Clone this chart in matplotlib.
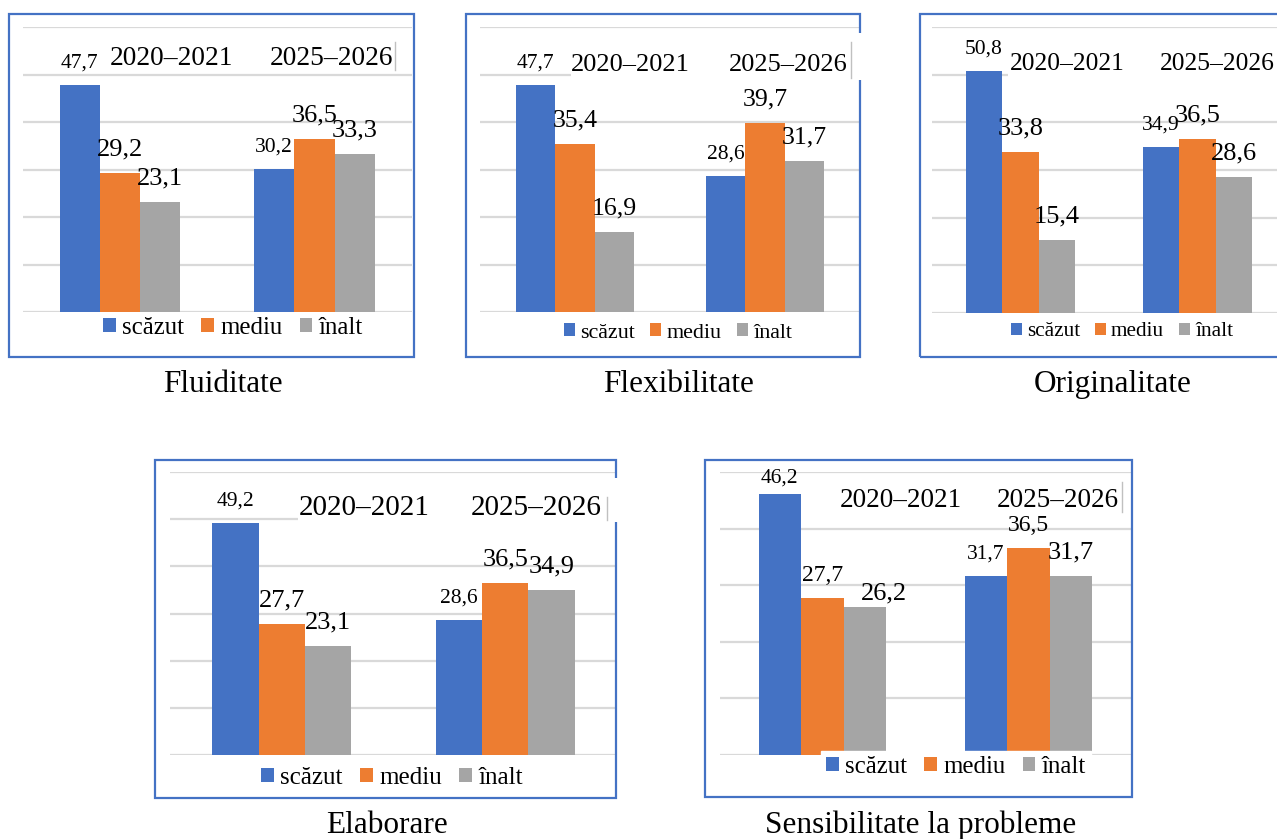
import numpy as np
import matplotlib
matplotlib.use('Agg')
import matplotlib.pyplot as plt
from matplotlib.patches import Rectangle
from matplotlib.lines import Line2D

# Reference image size in pixels
W, H = 1277, 839

periods = ['2020–2021', '2025–2026']
levels = ['scăzut', 'mediu', 'înalt']
captions = ['Fluiditate', 'Flexibilitate', 'Originalitate', 'Elaborare',
            'Sensibilitate la probleme']

# rows = periods, columns = levels (scăzut, mediu, înalt), in %
fluiditate = [[47.7, 29.2, 23.1], [30.2, 36.5, 33.3]]
flexibilitate = [[47.7, 35.4, 16.9], [28.6, 39.7, 31.7]]
originalitate = [[50.8, 33.8, 15.4], [34.9, 36.5, 28.6]]
elaborare = [[49.2, 27.7, 23.1], [28.6, 36.5, 34.9]]
sensibilitate = [[46.2, 27.7, 26.2], [31.7, 36.5, 31.7]]

all_data = [fluiditate, flexibilitate, originalitate, elaborare, sensibilitate]

series_colors = ['#4472C4', '#ED7D31', '#A5A5A5']
border_color = '#4472C4'
grid_color = '#D9D9D9'

# Layout of each pasted chart, in pixel coordinates of the reference
panels = [
    dict(box=(9, 14, 414, 357), axes=(22.75, 27, 411.75, 312), ymax=60,
         period_x=(171.5, 331.5), period_y=65, period_fs=19.7,
         cover=(108, 40, 397, 72), vline=(395, 42, 70),
         legend=(233, 328), legend_fs=17.9, legend_frame=False, caption=(223, 392),
         label_fs=[15.5, 19, 19, 15.5, 19, 19]),
    dict(box=(466, 14, 860, 357), axes=(480, 27, 860, 312), ymax=60,
         period_x=(630.5, 788), period_y=71, period_fs=19,
         cover=(571, 33, 863, 80), vline=(851, 42, 78),
         legend=(678, 333), legend_fs=15.8, legend_frame=False, caption=(679, 392),
         label_fs=[15.5, 18.5, 18.5, 15.5, 18.5, 18.5]),
    dict(box=(920, 14, 1290, 357), axes=(932, 27, 1286, 313), ymax=60,
         period_x=(1067.5, 1217), period_y=70, period_fs=18.4,
         cover=(1008, 40, 1277, 78), vline=None,
         legend=(1122, 332), legend_fs=15.3, legend_frame=False, caption=(1113, 392),
         label_fs=[15.5, 19, 19, 15.5, 19, 19]),
    dict(box=(155, 460, 616, 798), axes=(170, 472, 617, 755), ymax=60,
         period_x=(364, 536.5), period_y=515, period_fs=21,
         cover=(298, 478, 620, 522), vline=(607, 497, 520),
         legend=(392, 778), legend_fs=18.1, legend_frame=False, caption=(387, 833),
         label_fs=[15.5, 19, 19, 15.5, 19, 19]),
    dict(box=(705, 460, 1132, 797), axes=(719.5, 472, 1131.5, 755), ymax=50,
         period_x=(901, 1057.5), period_y=507, period_fs=19.5,
         cover=(840, 476, 1126, 515), vline=(1122, 482, 512),
         legend=(956, 767), legend_fs=17.9, legend_frame=True, caption=(921, 833),
         label_fs=[15.5, 17, 19, 15.5, 17, 19]),
]

# a few labels in the last chart sit off their default spot (dx px, gap px)
label_shift = {(4, 0, 0): (0, 11), (4, 0, 2): (19, 7)}

plt.rcParams['font.family'] = ['Liberation Serif', 'DejaVu Serif']

bar_w = 0.207
default_gap = 17.5  # px between bar top and label baseline
PT = 72 / 100  # points per pixel at dpi 100


def fx(px):
    return px / W


def fy(py):
    return 1 - py / H


fig = plt.figure(figsize=(W / 100, H / 100), dpi=100)
fig.patch.set_facecolor('white')

for p, (spec, data, caption) in enumerate(zip(panels, all_data, captions)):
    vals = np.array(data)

    # outer blue frame of the pasted chart
    x0, y0, x1, y1 = spec['box']
    fig.add_artist(Rectangle((fx(x0), fy(y1)), fx(x1) - fx(x0), fy(y0) - fy(y1),
                             transform=fig.transFigure, fill=False,
                             edgecolor=border_color, lw=1.6, zorder=1))

    l, t, r, b = spec['axes']
    ax = fig.add_axes([fx(l), fy(b), fx(r) - fx(l), fy(t) - fy(b)])
    ax.set_xlim(-0.5, 1.5)
    ax.set_ylim(0, spec['ymax'])
    ax.set_yticks(np.arange(0, spec['ymax'] + 1, 10))
    ax.yaxis.grid(True, color=grid_color, lw=1.6)
    ax.set_axisbelow(True)
    for s in ax.spines.values():
        s.set_visible(False)
    ax.tick_params(left=False, bottom=False, labelleft=False, labelbottom=False)
    ax.patch.set_alpha(0)

    x = np.arange(len(periods))
    handles = []
    for j, level in enumerate(levels):
        bars = ax.bar(x + (j - 1) * bar_w, vals[:, j], bar_w,
                      color=series_colors[j], label=level, zorder=2)
        handles.append(bars)
        for i, v in enumerate(vals[:, j]):
            dx, gap = label_shift.get((p, i, j), (0, default_gap))
            ax.annotate(f'{v:.1f}'.replace('.', ','),
                        xy=(x[i] + (j - 1) * bar_w, v),
                        xytext=(dx * PT, gap * PT), textcoords='offset points',
                        ha='center', va='baseline',
                        fontsize=spec['label_fs'][i * 3 + j], zorder=3)

    # white text box holding the period names
    cx0, cy0, cx1, cy1 = spec['cover']
    fig.add_artist(Rectangle((fx(cx0), fy(cy1)), fx(cx1) - fx(cx0), fy(cy0) - fy(cy1),
                             transform=fig.transFigure, facecolor='white',
                             edgecolor='none', zorder=2))
    if spec['vline'] is not None:
        vx, vy0, vy1 = spec['vline']
        fig.add_artist(Line2D([fx(vx), fx(vx)], [fy(vy0), fy(vy1)],
                              transform=fig.transFigure, color='#C0C0C0',
                              lw=1, zorder=3))
    for name, px in zip(periods, spec['period_x']):
        fig.text(fx(px), fy(spec['period_y']), name, ha='center', va='baseline',
                 fontsize=spec['period_fs'], zorder=4)

    lx, ly = spec['legend']
    leg = fig.legend(handles, levels, loc='center',
                     bbox_to_anchor=(fx(lx), fy(ly)), ncol=3,
                     fontsize=spec['legend_fs'], handlelength=0.5,
                     handleheight=0.5, handletextpad=0.25, columnspacing=0.7,
                     borderpad=0.2, frameon=spec['legend_frame'],
                     fancybox=False)
    if spec['legend_frame']:
        leg.get_frame().set_facecolor('white')
        leg.get_frame().set_edgecolor('white')
        leg.get_frame().set_alpha(1)

    capx, capy = spec['caption']
    fig.text(fx(capx), fy(capy), caption, ha='center', va='baseline',
             fontsize=22.5)

fig.savefig('out.png', dpi=100)
